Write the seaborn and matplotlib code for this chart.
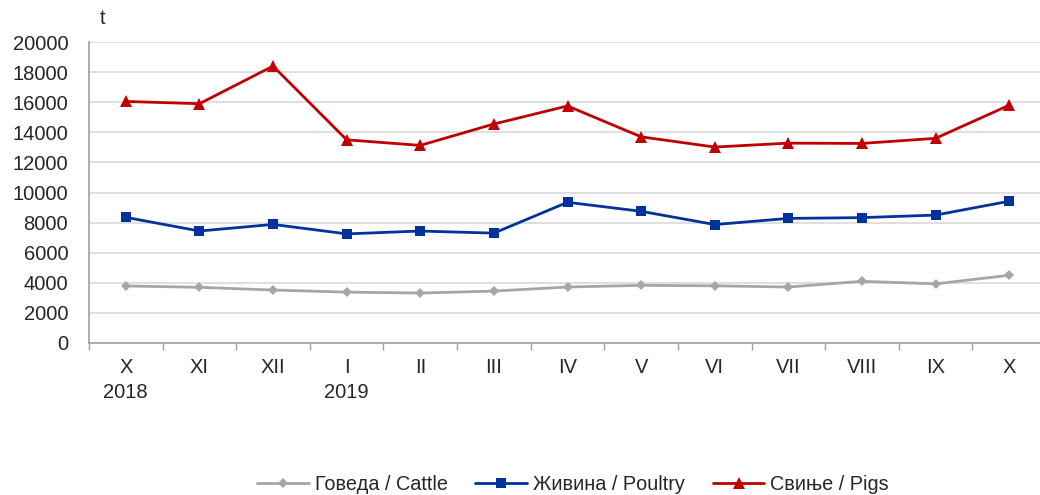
import numpy as np
import pandas as pd
import matplotlib
matplotlib.use("Agg")
import matplotlib.pyplot as plt
import seaborn as sns

months = ["X\n2018", "XI", "XII", "I\n2019", "II", "III", "IV", "V", "VI", "VII", "VIII", "IX", "X"]
cattle = [3790, 3700, 3520, 3380, 3320, 3450, 3720, 3830, 3800, 3720, 4100, 3930, 4500]
poultry = [8350, 7440, 7880, 7250, 7440, 7300, 9350, 8750, 7870, 8280, 8330, 8500, 9420]
pigs = [16050, 15900, 18400, 13500, 13130, 14550, 15750, 13700, 13020, 13280, 13260, 13600, 15800]
series = ["Говеда / Cattle", "Живина / Poultry", "Свиње / Pigs"]


def main():
    sns.set_theme(style="white")
    plt.rcParams["font.family"] = ["Liberation Sans", "DejaVu Sans"]

    df = pd.DataFrame({
        "pos": list(range(len(months))) * 3,
        "value": cattle + poultry + pigs,
        "series": np.repeat(series, len(months)),
    })

    palette = {series[0]: "#A6A6A6", series[1]: "#003399", series[2]: "#C00000"}
    markers = {series[0]: "D", series[1]: "s", series[2]: "^"}

    fig = plt.figure(figsize=(10.4, 4.95), dpi=100)
    ax = fig.add_axes([89 / 1040, 152 / 495, 957 / 1040, 301 / 495])

    sns.lineplot(
        data=df, x="pos", y="value", hue="series", style="series",
        palette=palette, markers=markers, dashes=False, linewidth=2,
        markersize=7.5, markeredgewidth=0, ax=ax, legend=True,
    )
    # per-series marker sizes
    sizes = {"D": 5, "s": 7, "^": 8}
    for line in ax.lines:
        m = line.get_marker()
        if m in sizes:
            line.set_markersize(sizes[m])

    ax.set_xlim(-0.5, len(months) - 0.5)
    ax.set_ylim(0, 20000)
    ax.set_yticks(range(0, 20001, 2000))
    ax.set_xticks(range(len(months)))
    ax.set_xticklabels(months, fontsize=14.5, linespacing=1.35)
    ax.set_xticks(np.arange(-0.5, len(months), 1), minor=True)
    ax.tick_params(axis="x", which="major", length=0, pad=11)
    ax.tick_params(axis="x", which="minor", length=5, color="#A0A0A0", width=1, direction="out", bottom=True)
    ax.tick_params(axis="y", labelsize=14.5, length=0, pad=15)
    ax.yaxis.grid(True, color="#D9D9D9", linewidth=1.2)
    ax.set_axisbelow(True)
    for side in ["top", "right"]:
        ax.spines[side].set_visible(False)
    for side in ["left", "bottom"]:
        ax.spines[side].set_color("#A0A0A0")
        ax.spines[side].set_linewidth(1.2)
    ax.set_xlabel("")
    ax.set_ylabel("")
    ax.text(103 / 1040, 1 - 18 / 495, "t", transform=fig.transFigure,
            fontsize=14.5, ha="center", va="center")

    handles, labels = ax.get_legend_handles_labels()
    ax.get_legend().remove()
    fig.legend(handles, labels, loc="center", bbox_to_anchor=(0.551, 0.022),
               ncol=3, frameon=False, fontsize=14.3, handlelength=2.6,
               columnspacing=1.4, handletextpad=0.3)

    fig.savefig("out.png", dpi=100)


if __name__ == "__main__":
    main()
